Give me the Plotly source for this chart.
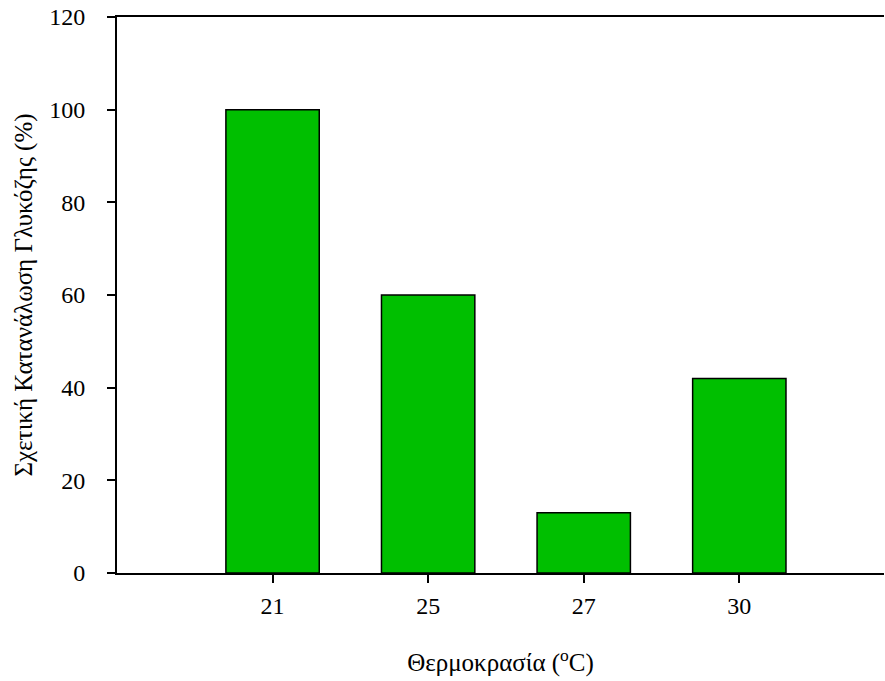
import plotly.graph_objects as go

categories = ["21", "25", "27", "30"]
values = [100, 60, 13, 42]
positions = [1, 2, 3, 4]
y_ticks = [0, 20, 40, 60, 80, 100, 120]

font = dict(family="Liberation Serif, Times New Roman, serif", size=24, color="black")
title_font = dict(family="Liberation Serif, Times New Roman, serif", size=25, color="black")

fig = go.Figure(go.Bar(
    x=positions, y=values, width=0.6,
    marker=dict(color="#00BF00", line=dict(color="black", width=1.5)),
))

fig.update_layout(
    width=885, height=681,
    margin=dict(l=117, r=1, t=17, b=108),
    paper_bgcolor="white", plot_bgcolor="white",
    font=font, showlegend=False,
    xaxis=dict(
        range=[0, 4.93], tickvals=positions, ticktext=categories,
        ticks="outside", ticklen=8, tickwidth=1.5, tickcolor="black",
        showline=True, linecolor="black", linewidth=2, mirror=True,
        showgrid=False, zeroline=False, tickfont=font,
        ticklabelstandoff=2,
        title=dict(text="Θερμοκρασία (<sup>o</sup>C)", standoff=36, font=title_font),
        automargin=False,
    ),
    yaxis=dict(
        range=[0, 120], tickvals=y_ticks,
        ticks="outside", ticklen=8, tickwidth=1.5, tickcolor="black",
        showline=True, linecolor="black", linewidth=2,
        showgrid=False, zeroline=False, tickfont=font,
        ticklabelstandoff=17,
        title=dict(text="Σχετική Κατανάλωση Γλυκόζης (%)", standoff=9, font=title_font),
        automargin=False,
    ),
)

fig.write_html("out.html")
